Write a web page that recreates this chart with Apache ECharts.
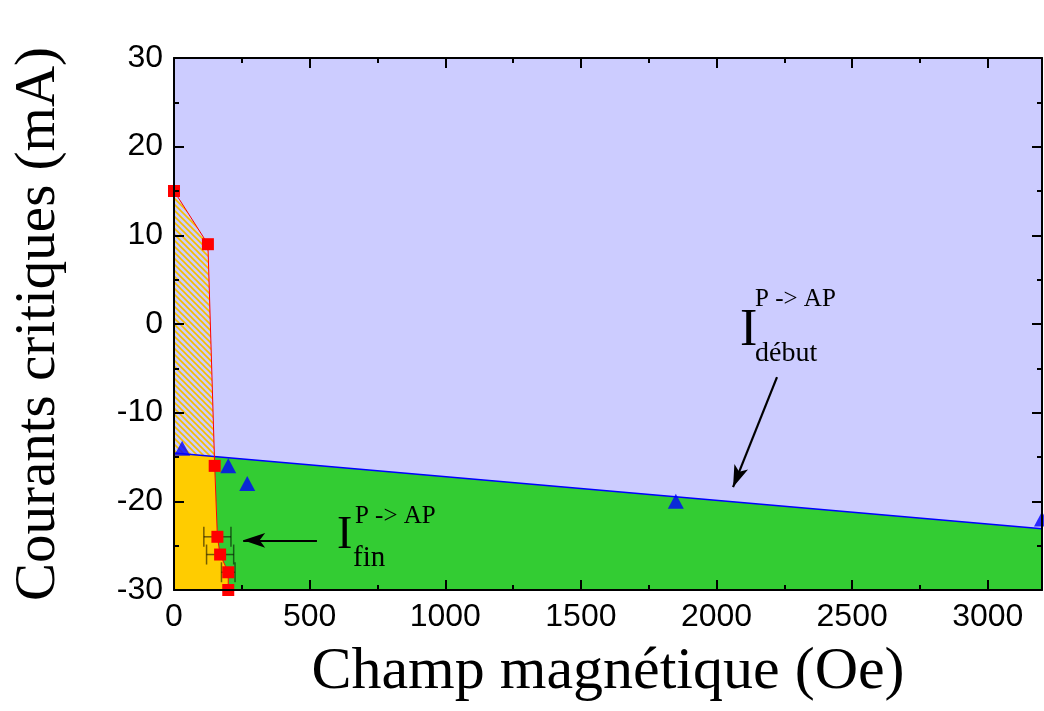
<!DOCTYPE html>
<html>
<head>
<meta charset="utf-8">
<script src="https://cdn.jsdelivr.net/npm/echarts@6/dist/echarts.min.js"></script>
<style>
html,body{margin:0;padding:0;background:#fff;}
#chart{width:1044px;height:711px;}
</style>
</head>
<body>
<div id="chart"></div>
<script>
// ---- data ----
const redX = [0, 125, 150, 160, 170, 200, 200];          // I_fin field (Oe)
const redY = [15, 9, -16, -24, -26, -28, -30];            // I_fin current (mA)
const redErr = [0, 0, 0, 50, 50, 25, 0];                  // horizontal error (Oe)
const blueX = [30, 200, 270, 1850, 3200];                 // I_debut field (Oe)
const blueY = [-14, -16, -18, -20, -22];                  // I_debut current (mA)
const fitX = [0, 3200];                                   // linear fit of I_debut
const fitY = [-14.55, -23.1];
const xTicks = [0, 500, 1000, 1500, 2000, 2500, 3000];
const yTicks = [-30, -20, -10, 0, 10, 20, 30];
const arrowFin = [[255, -24.4], [527, -24.4]];            // [tip, tail]
const arrowDebut = [[2061, -18.4], [2223, -6.0]];

// ---- helpers ----
function fitAt(x) { return fitY[0] + (fitY[1] - fitY[0]) * (x - fitX[0]) / (fitX[1] - fitX[0]); }
let crossIdx = 0, cross = [0, 0];
for (let i = 0; i < redX.length - 1; i++) {
  const d0 = redY[i] - fitAt(redX[i]), d1 = redY[i + 1] - fitAt(redX[i + 1]);
  if (d0 >= 0 && d1 < 0) {
    const t = d0 / (d0 - d1);
    cross = [redX[i] + t * (redX[i + 1] - redX[i]), redY[i] + t * (redY[i + 1] - redY[i])];
    crossIdx = i; break;
  }
}
const yMin = yTicks[0], xMax = 3200;
const above = [];
const below = [];
for (let i = 0; i < redX.length; i++) { (i <= crossIdx ? above : below).push([redX[i], redY[i]]); }

const polyHatch = [[0, fitAt(0)]].concat(above, [cross]);
const polyYellow = [[0, fitAt(0)], cross].concat(below, [[0, yMin]]);
const polyGreen = [cross, [xMax, fitAt(xMax)], [xMax, yMin]].concat(below.slice().reverse());

// hatch pattern
const pat = document.createElement('canvas');
const ps = 6; pat.width = ps; pat.height = ps;
const pctx = pat.getContext('2d');
pctx.strokeStyle = '#f5c000'; pctx.lineWidth = 1.6;
pctx.beginPath();
pctx.moveTo(-1, -1); pctx.lineTo(ps + 1, ps + 1);
pctx.moveTo(-1, ps - 1); pctx.lineTo(1, ps + 1);
pctx.moveTo(ps - 1, -1); pctx.lineTo(ps + 1, 1);
pctx.stroke();

function polySeries(pts, fill, z) {
  return {
    type: 'custom', z: z, silent: true, clip: true,
    data: [[0, 0]],
    renderItem: function (params, api) {
      return { type: 'polygon', shape: { points: pts.map(p => api.coord(p)) }, style: { fill: fill, stroke: null } };
    }
  };
}

const chart = echarts.init(document.getElementById('chart'), null, { renderer: 'canvas' });
const SERIF = '"Liberation Serif", "Times New Roman", serif';
const SANS = '"Liberation Sans", Arial, sans-serif';
const axisCommon = {
  axisLine: { show: true, onZero: false, lineStyle: { color: '#000', width: 2 } },
  axisTick: { show: true, inside: true, length: 10, lineStyle: { color: '#000', width: 2 } },
  minorTick: { show: true, splitNumber: 2, length: 5, lineStyle: { color: '#000', width: 2 } },
  splitLine: { show: false },
  z: 20
};

chart.setOption({
  animation: false,
  backgroundColor: '#ffffff',
  grid: { left: 174, right: 2, top: 58, bottom: 121, show: true, backgroundColor: '#ccccff', borderWidth: 0 },
  xAxis: [
    Object.assign({}, axisCommon, {
      type: 'value', min: xTicks[0], max: xMax, interval: 500, position: 'bottom',
      name: 'Champ magnétique (Oe)', nameLocation: 'middle', nameGap: 52,
      nameTextStyle: { fontFamily: SERIF, fontSize: 60, color: '#000' },
      axisLabel: { fontFamily: SANS, fontSize: 32, color: '#000', margin: 11, showMaxLabel: false,
                   formatter: v => String(v) }
    }),
    Object.assign({}, axisCommon, {
      type: 'value', min: xTicks[0], max: xMax, interval: 500, position: 'top',
      axisLabel: { show: false }
    })
  ],
  yAxis: [
    Object.assign({}, axisCommon, {
      type: 'value', min: yTicks[0], max: yTicks[yTicks.length - 1], interval: 10, position: 'left',
      name: 'Courants critiques (mA)', nameLocation: 'middle', nameGap: 106,
      nameTextStyle: { fontFamily: SERIF, fontSize: 57, color: '#000' },
      axisLabel: { fontFamily: SANS, fontSize: 32, color: '#000', margin: 11, formatter: v => String(v) }
    }),
    Object.assign({}, axisCommon, {
      type: 'value', min: yTicks[0], max: yTicks[yTicks.length - 1], interval: 10, position: 'right',
      axisLabel: { show: false }
    })
  ],
  series: [
    polySeries(polyGreen, '#33cc33', 1),
    polySeries(polyYellow, '#ffcc00', 1),
    polySeries(polyHatch, { image: pat, repeat: 'repeat' }, 1),
    {
      type: 'line', z: 3, data: fitX.map((x, i) => [x, fitY[i]]), showSymbol: false, symbol: 'none',
      lineStyle: { color: '#0000ff', width: 1.5 }, silent: true,
      markLine: {
        silent: true, animation: false, symbol: ['arrow', 'none'], symbolSize: [11, 22],
        label: { show: false },
        lineStyle: { color: '#000', width: 2.2, type: 'solid' },
        data: [
          [{ coord: arrowFin[0] }, { coord: arrowFin[1] }],
          [{ coord: arrowDebut[0] }, { coord: arrowDebut[1] }]
        ]
      }
    },
    {
      type: 'custom', z: 4, silent: true,
      data: redX.map((x, i) => [x, redY[i], redErr[i]]).filter(d => d[2] > 0),
      renderItem: function (params, api) {
        const x = api.value(0), y = api.value(1), e = api.value(2);
        const p0 = api.coord([x - e, y]), p1 = api.coord([x + e, y]);
        const h = 10;
        const st = { stroke: 'rgba(0,0,0,0.55)', lineWidth: 1.5 };
        return {
          type: 'group', children: [
            { type: 'line', shape: { x1: p0[0], y1: p0[1], x2: p1[0], y2: p1[1] }, style: st },
            { type: 'line', shape: { x1: p0[0], y1: p0[1] - h, x2: p0[0], y2: p0[1] + h }, style: st },
            { type: 'line', shape: { x1: p1[0], y1: p1[1] - h, x2: p1[0], y2: p1[1] + h }, style: st }
          ]
        };
      }
    },
    {
      type: 'scatter', z: 5, data: blueX.map((x, i) => [x, blueY[i]]),
      symbol: 'triangle', symbolSize: [16, 15], itemStyle: { color: '#0000ff' }, silent: true
    },
    {
      type: 'line', z: 6, data: redX.map((x, i) => [x, redY[i]]),
      symbol: 'rect', symbolSize: 12, showSymbol: true,
      lineStyle: { color: '#ff0000', width: 1 }, itemStyle: { color: '#ff0000' }, silent: true
    }
  ]
});

// annotations anchored to data coordinates (left, baseline)
const notes = [
  { t: 'I', at: [601, -25.7], size: 46 },
  { t: 'P -> AP', at: [667, -22.7], size: 25 },
  { t: 'fin', at: [660, -27.5], size: 29 },
  { t: 'I', at: [2087, -2.8], size: 52 },
  { t: 'P -> AP', at: [2142, 1.8], size: 25 },
  { t: 'début', at: [2142, -4.4], size: 28 }
];
const gfx = notes.map(n => {
  const p = chart.convertToPixel({ gridIndex: 0 }, n.at);
  return {
    type: 'text', z: 30, silent: true,
    style: { text: n.t, x: p[0], y: p[1] + 0.1625 * n.size, align: 'left', verticalAlign: 'bottom',
             font: n.size + 'px ' + SERIF, fill: '#000' }
  };
});
chart.setOption({ graphic: gfx });
</script>
</body>
</html>
